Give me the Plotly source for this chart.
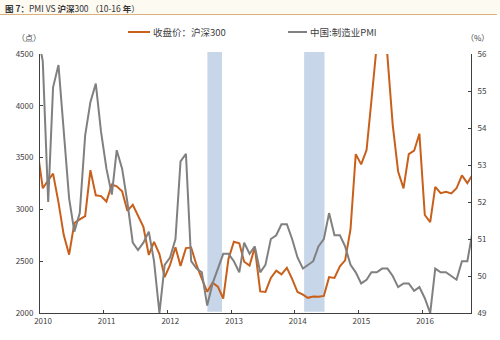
import plotly.graph_objects as go

# Monthly observations, Dec 2009 - Oct 2016 (Dec 2009 only anchors the line at the left edge)
months = [f"{y}-{m:02d}" for y in range(2009, 2017) for m in range(1, 13)]
months = months[months.index("2009-12"):months.index("2016-10") + 1]

csi300_close = [
    3575.7,
    3204.2, 3281.7, 3345.7, 3067.4, 2754.5, 2563.1, 2868.9, 2903.2, 2935.6, 3379.0, 3136.2, 3128.3,
    3076.2, 3239.3, 3223.3, 3175.0, 2986.0, 3044.0, 2941.0, 2830.7, 2560.0, 2686.1, 2569.0, 2345.7,
    2464.3, 2634.1, 2454.9, 2626.2, 2632.0, 2461.6, 2332.9, 2204.9, 2293.1, 2254.8, 2139.7, 2522.9,
    2687.7, 2673.3, 2495.1, 2457.4, 2634.1, 2208.0, 2203.3, 2338.1, 2409.1, 2373.3, 2435.9, 2330.0,
    2202.5, 2178.0, 2146.3, 2158.7, 2157.4, 2165.1, 2346.2, 2338.1, 2450.6, 2508.3, 2808.8, 3533.7,
    3434.4, 3572.8, 4051.2, 4749.9, 5123.5, 4473.0, 3816.7, 3366.5, 3202.9, 3534.1, 3566.4, 3731.0,
    2946.1, 2877.5, 3218.1, 3156.8, 3169.6, 3153.9, 3203.9, 3327.8, 3253.3, 3336.3,
]

pmi = [
    56.6,
    55.8, 52.0, 55.1, 55.7, 53.9, 52.1, 51.2, 51.7, 53.8, 54.7, 55.2, 53.9,
    52.9, 52.2, 53.4, 52.9, 52.0, 50.9, 50.7, 50.9, 51.2, 50.4, 49.0, 50.3,
    50.5, 51.0, 53.1, 53.3, 50.4, 50.2, 50.1, 49.2, 49.8, 50.2, 50.6, 50.6,
    50.4, 50.1, 50.9, 50.6, 50.8, 50.1, 50.3, 51.0, 51.1, 51.4, 51.4, 51.0,
    50.5, 50.2, 50.3, 50.4, 50.8, 51.0, 51.7, 51.1, 51.1, 50.8, 50.3, 50.1,
    49.8, 49.9, 50.1, 50.1, 50.2, 50.2, 50.0, 49.7, 49.8, 49.8, 49.6, 49.7,
    49.4, 49.0, 50.2, 50.1, 50.1, 50.0, 49.9, 50.4, 50.4, 51.2,
]

year_ticks = ["2010", "2011", "2012", "2013", "2014", "2015", "2016"]
shaded_periods = [("2012-08-18", "2012-11-10"), ("2014-02-24", "2014-06-21")]

dates = [m + "-17" for m in months]

ORANGE = "#c8601c"
GREY = "#808080"
AXIS = "#404040"
TXT = "#404040"
FONT = "Noto Sans CJK SC"

# plot-area geometry in pixels, used to place the header pieces
L, R, T, B, W, H = 40, 29, 54, 27, 500, 340
PW, PH = W - L - R, H - T - B


def px(x):
    return (x - L) / PW


def py(y):
    return (H - B - y) / PH


fig = go.Figure()
fig.add_trace(go.Scatter(x=dates, y=csi300_close, mode="lines", name="收盘价：沪深300",
                         line=dict(color=ORANGE, width=2), yaxis="y"))
fig.add_trace(go.Scatter(x=dates, y=pmi, mode="lines", name="中国:制造业PMI",
                         line=dict(color=GREY, width=2), yaxis="y2"))

shapes = []
for a, b in shaded_periods:
    shapes.append(dict(type="rect", xref="x", yref="paper", x0=a, x1=b, y0=0.005, y1=1.008,
                       fillcolor="#c8d6ea", line=dict(width=0), layer="below"))

# header band and rule under the caption
shapes.append(dict(type="rect", xref="paper", yref="paper", x0=px(0), x1=px(500),
                   y0=py(14), y1=py(0), fillcolor="#fdfaf2", line=dict(width=0), layer="below"))
shapes.append(dict(type="line", xref="paper", yref="paper", x0=px(0), x1=px(497),
                   y0=py(14.5), y1=py(14.5), line=dict(color="#d9b27c", width=1.2)))

# legend keys
shapes.append(dict(type="line", xref="paper", yref="paper", x0=px(128), x1=px(150),
                   y0=py(32), y1=py(32), line=dict(color=ORANGE, width=2)))
shapes.append(dict(type="line", xref="paper", yref="paper", x0=px(288), x1=px(307),
                   y0=py(32), y1=py(32), line=dict(color=GREY, width=2)))

annotations = [
    dict(text="<b>图 7：</b>PMI VS <b>沪深</b>300 （10-16 <b>年</b>）", x=px(3), y=py(7.5),
         xref="paper", yref="paper", xanchor="left", yanchor="middle", showarrow=False,
         font=dict(size=8.5, color="#333333", family=FONT)),
    dict(text="收盘价：沪深300", x=px(151), y=py(32), xref="paper", yref="paper",
         xanchor="left", yanchor="middle", showarrow=False,
         font=dict(size=9.5, color=TXT, family=FONT)),
    dict(text="中国:制造业PMI", x=px(308), y=py(32), xref="paper", yref="paper",
         xanchor="left", yanchor="middle", showarrow=False,
         font=dict(size=9.5, color=TXT, family=FONT)),
    dict(text="（点）", x=px(29), y=py(38), xref="paper", yref="paper",
         xanchor="center", yanchor="middle", showarrow=False,
         font=dict(size=8, color=TXT, family=FONT)),
    dict(text="（%）", x=px(477), y=py(38), xref="paper", yref="paper",
         xanchor="center", yanchor="middle", showarrow=False,
         font=dict(size=8, color=TXT, family=FONT)),
]

tick_font = dict(size=8, color=TXT, family=FONT)

fig.update_layout(
    width=W, height=H,
    margin=dict(l=L, r=R, t=T, b=B, pad=0),
    paper_bgcolor="white", plot_bgcolor="white",
    showlegend=False,
    shapes=shapes,
    annotations=annotations,
    xaxis=dict(type="date", range=["2010-01-01", "2016-10-08"],
               tickvals=[y + "-01-01" for y in year_ticks], ticktext=year_ticks,
               ticks="inside", ticklen=3, tickcolor=AXIS, showline=True, linecolor=AXIS,
               linewidth=1, showgrid=False, zeroline=False, tickfont=tick_font,
               ticklabelshift=3),
    yaxis=dict(range=[2000, 4500], dtick=500, ticks="inside", ticklen=3, tickcolor=AXIS,
               showline=True, linecolor=AXIS, linewidth=1, showgrid=False, zeroline=False,
               tickfont=tick_font, ticklabelstandoff=4),
    yaxis2=dict(range=[49, 56], dtick=1, overlaying="y", side="right", ticks="inside",
                ticklen=3, tickcolor=AXIS, showline=True, linecolor=AXIS, linewidth=1,
                showgrid=False, zeroline=False, tickfont=tick_font, ticklabelstandoff=4),
)

fig.write_html("out.html")
